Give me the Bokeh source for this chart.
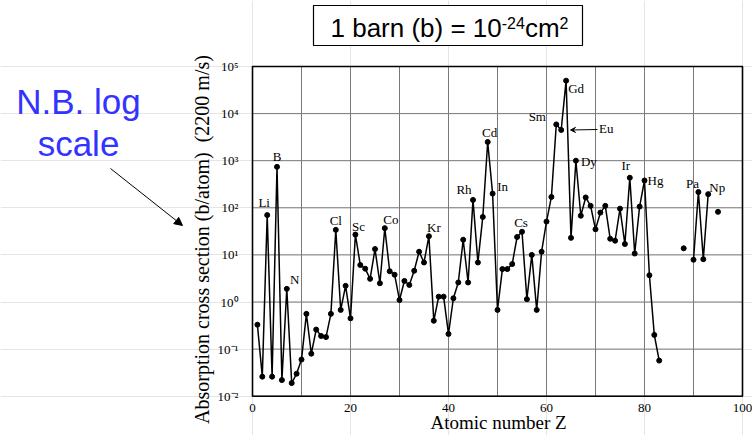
import math
from bokeh.plotting import figure
from bokeh.models import (Label, Arrow, NormalHead, VeeHead, BoxAnnotation,
                          FixedTicker, Range1d, LinearAxis, LogAxis)
from bokeh.embed import file_html
from bokeh.resources import INLINE

# ---------------- data ----------------
NAN = float("nan")
atomic_number = list(range(1, 96))
cross_section = [
    0.33, 0.026, 70, 0.026, 740, 0.022, 1.9, 0.019, 0.03, 0.06,        # 1-10
    0.56, 0.08, 0.26, 0.19, 0.18, 0.56, 34, 0.68, 2.2, 0.45,          # 11-20
    27, 6.1, 5.1, 3.1, 13.3, 2.5, 37, 4.5, 3.8, 1.1,                  # 21-30
    2.8, 2.3, 4.6, 11.7, 6.9, 25, 0.4, 1.3, 1.3, 0.21,                # 31-40
    1.2, 2.6, 21, 2.6, 147, 6.9, 64, 2500, 200, 0.68,                 # 41-50
    5.0, 5.0, 6.4, 24, 31, 1.15, 10, 0.68, 11.7, 51,                  # 51-60
    170, 5900, 4500, 50000, 23, 1000, 68, 166, 110, 35,               # 61-70
    79, 110, 22, 20, 96, 17, 435, 10.7, 106, 380,                     # 71-80
    3.7, 0.2, 0.057, NAN, NAN, NAN, NAN, 13.8, NAN, 7.9,              # 81-90
    216, 8.1, 195, NAN, 82,                                           # 91-95
]
labelled_symbols = ["Li", "B", "N", "Cl", "Sc", "Co", "Kr", "Rh", "Cd", "In",
                    "Cs", "Sm", "Gd", "Dy", "Ir", "Hg", "Pa", "Np"]
labelled_z = [3, 5, 7, 17, 21, 27, 36, 45, 48, 49, 55, 62, 64, 66, 77, 80, 91, 93]
x_ticks = [0, 20, 40, 60, 80, 100]
x_grid = [0, 10, 20, 30, 40, 50, 60, 70, 80, 90, 100]
y_ticks = [0.01, 0.1, 1, 10, 100, 1000, 10000, 100000]
y_tick_labels = ["10\u207b\u00b2", "10\u207b\u00b9", "10\u2070", "10\u00b9",
                 "10\u00b2", "10\u00b3", "10\u2074", "10\u2075"]

# ---------------- layout ----------------
W, H = 752, 435
PX_Z0, PX_PER_Z = 252.0, 4.9          # page x of Z=0, px per unit Z
PY_TOP, PY_BOT = 66.0, 395.7          # page y of 1e5 and 1e-2
DEC = (PY_BOT - PY_TOP) / 7.0

x_lo = (0 - PX_Z0) / PX_PER_Z
x_hi = (W - PX_Z0) / PX_PER_Z
y_hi = 10 ** (5 + PY_TOP / DEC)
y_lo = 10 ** (-2 - (H - PY_BOT) / DEC)


def sx(px):
    return px


def sy(py):
    return H - py


SERIF = "Liberation Serif"
SANS = "Liberation Sans"

p = figure(width=W, height=H, y_axis_type="log",
           x_range=Range1d(x_lo, x_hi), y_range=Range1d(y_lo, y_hi),
           x_axis_location=None, y_axis_location=None,
           output_backend="svg", toolbar_location=None, min_border=0)
p.background_fill_color = "white"
p.border_fill_color = "white"
p.outline_line_color = None

# grid lines (from tick arrays)
n_x = len(x_grid)
p.segment(x0=x_grid, y0=[y_ticks[0]] * n_x, x1=x_grid, y1=[y_ticks[-1]] * n_x,
          line_color="#7a7a7a", line_width=1)
n_y = len(y_ticks)
p.segment(x0=[x_grid[0]] * n_y, y0=y_ticks, x1=[x_grid[-1]] * n_y, y1=y_ticks,
          line_color="#7a7a7a", line_width=1)
# plot box
p.quad(left=[x_ticks[0]], right=[x_ticks[-1]], bottom=[y_ticks[0]],
       top=[y_ticks[-1]], fill_color=None, line_color="black", line_width=1.6)

# axes fixed at the plot box edges
xax = LinearAxis(fixed_location=y_ticks[0], ticker=FixedTicker(ticks=x_ticks),
                 bounds=(x_ticks[0], x_ticks[-1]))
yax = LogAxis(fixed_location=x_ticks[0], ticker=FixedTicker(ticks=y_ticks),
              bounds=(y_ticks[0], y_ticks[-1]))
yax.major_label_overrides = {t: s for t, s in zip(y_ticks, y_tick_labels)}
for ax in (xax, yax):
    ax.axis_line_color = None
    ax.major_tick_line_color = None
    ax.minor_tick_line_color = None
    ax.major_tick_out = 0
    ax.major_tick_in = 0
    ax.major_label_text_font = SERIF
    ax.major_label_text_color = "black"
xax.major_label_text_font_size = "13px"
xax.major_label_standoff = 8
yax.major_label_text_font_size = "13px"
yax.major_label_standoff = 14
p.add_layout(xax, "below")
p.add_layout(yax, "left")

# data
p.line(atomic_number, cross_section, line_color="black", line_width=1.5)
p.scatter(atomic_number, cross_section, size=5, fill_color="black",
          line_color="black")

# element labels
offsets = {"Li": (-3, 13), "B": (0, 10), "N": (8, 9), "Cl": (0, 9), "Sc": (3, 8),
           "Co": (6, 9), "Kr": (5, 8.5), "Rh": (-9, 10), "Cd": (2, 9),
           "In": (10, 7), "Cs": (-1, 9), "Sm": (-19, 8), "Gd": (10, -8),
           "Dy": (13, -1), "Ir": (-4, 12), "Hg": (11, 0), "Pa": (-6, 9),
           "Np": (9, 7)}
for sym, z in zip(labelled_symbols, labelled_z):
    dx, dy = offsets[sym]
    p.add_layout(Label(x=z, y=cross_section[z - 1], x_offset=dx, y_offset=dy,
                       text=sym, text_align="center", text_baseline="middle",
                       text_font=SERIF, text_font_size="13px",
                       text_color="black"))
# Eu label with arrow
eu_z = 63
p.add_layout(Label(x=eu_z, y=cross_section[eu_z - 1], x_offset=45, y_offset=1,
                   text="Eu", text_align="center", text_baseline="middle",
                   text_font=SERIF, text_font_size="13px", text_color="black"))
p.add_layout(Arrow(x_start=sx(597), y_start=sy(129), x_end=sx(570), y_end=sy(129.5),
                   start_units="screen", end_units="screen",
                   line_color="black", line_width=1,
                   end=VeeHead(size=5, line_color="black", line_width=1)))

# axis titles
p.add_layout(Label(x=sx(201), y=sy(239), x_units="screen", y_units="screen",
                   angle=math.pi / 2,
                   text="Absorption cross section (b/atom)\u00a0\u00a0(2200 m/s)",
                   text_align="center", text_baseline="middle",
                   text_font=SERIF, text_font_size="20px", text_color="black"))
p.add_layout(Label(x=sx(498), y=sy(422), x_units="screen", y_units="screen",
                   text="Atomic number Z", text_align="center",
                   text_baseline="middle", text_font=SERIF,
                   text_font_size="19px", text_color="black"))

# barn box
p.add_layout(BoxAnnotation(left=sx(313), right=sx(582), top=sy(5), bottom=sy(45),
                           left_units="screen", right_units="screen",
                           top_units="screen", bottom_units="screen",
                           fill_color="white", fill_alpha=1.0,
                           line_color="black", line_width=1.2, line_alpha=1.0,
                           level="annotation"))
main_size, sup_size = 26, 16
x0 = 330
pieces = [("1 barn (b) = 10", main_size, 27, 6.587),
          ("-24", sup_size, 22, 1.445),
          ("cm", main_size, 27, 1.333),
          ("2", sup_size, 22, 0.556)]
xc = x0
for txt, fs, mid, em in pieces:
    p.add_layout(Label(x=sx(xc), y=sy(mid), x_units="screen", y_units="screen",
                       text=txt, text_align="left", text_baseline="middle",
                       text_font=SANS, text_font_size=f"{fs}px",
                       text_color="black"))
    xc += em * fs

# N.B. note
for txt, mid in (("N.B. log", 101), ("scale", 143)):
    p.add_layout(Label(x=sx(78), y=sy(mid), x_units="screen", y_units="screen",
                       text=txt, text_align="center", text_baseline="middle",
                       text_font=SANS, text_font_size="35px",
                       text_color="#3333ff"))
p.add_layout(Arrow(x_start=sx(110), y_start=sy(168), x_end=sx(182), y_end=sy(225),
                   start_units="screen", end_units="screen",
                   line_color="black", line_width=1,
                   end=NormalHead(size=8, fill_color="black", line_color="black")))

open("out.html", "w").write(file_html(p, INLINE))
